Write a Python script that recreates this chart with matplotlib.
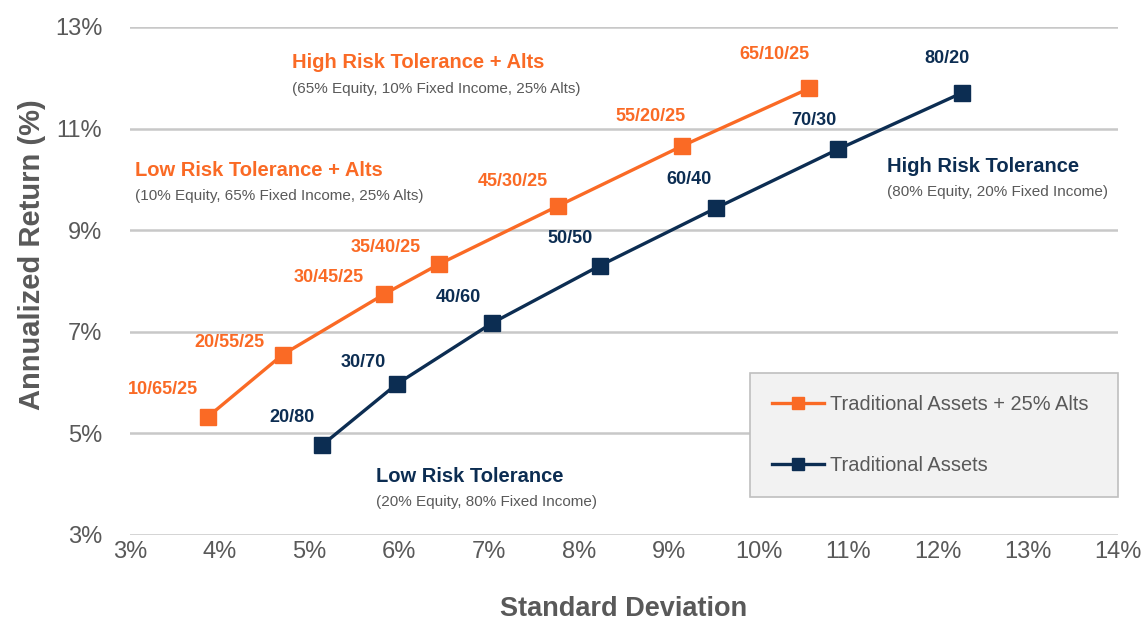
import matplotlib
matplotlib.use("Agg")
import matplotlib.pyplot as plt
from matplotlib.ticker import FuncFormatter

plt.rcParams["font.family"] = ["Liberation Sans", "DejaVu Sans"]

# data
alts_labels = ["10/65/25", "20/55/25", "30/45/25", "35/40/25", "45/30/25", "55/20/25", "65/10/25"]
alts_sd = [3.87, 4.70, 5.83, 6.44, 7.77, 9.15, 10.56]
alts_ret = [5.33, 6.55, 7.74, 8.33, 9.48, 10.66, 11.79]

trad_labels = ["20/80", "30/70", "40/60", "50/50", "60/40", "70/30", "80/20"]
trad_sd = [5.14, 5.97, 7.03, 8.23, 9.53, 10.88, 12.26]
trad_ret = [4.77, 5.97, 7.17, 8.30, 9.44, 10.59, 11.70]

xticks = list(range(3, 15))
yticks = list(range(3, 14, 2))

orange = "#FA6A25"
navy = "#0C2D52"
gray = "#595959"

# label offsets in pixels (dx, dy up)
alts_off = [(-45, 27), (-53, 12), (-55, 17), (-53, 17), (-46, 24), (-32, 29), (-35, 34)]
trad_off = [(-30, 28), (-33, 22), (-34, 26), (-30, 27), (-27, 28), (-24, 29), (-15, 35)]

fig = plt.figure(figsize=(11.47, 6.26), dpi=100)
ax = fig.add_axes([0.1133, 0.1454, 0.8614, 0.8115])

ax.plot(alts_sd, alts_ret, color=orange, lw=2.4, marker="s", ms=11,
        label="Traditional Assets + 25% Alts", zorder=3)
ax.plot(trad_sd, trad_ret, color=navy, lw=2.4, marker="s", ms=11,
        label="Traditional Assets", zorder=3)

px = 0.72  # points per pixel at dpi 100
for lab, x, y, (dx, dy) in zip(alts_labels, alts_sd, alts_ret, alts_off):
    ax.annotate(lab, (x, y), xytext=(dx * px, dy * px), textcoords="offset points",
                ha="center", va="center", color=orange, fontsize=13, fontweight="bold")
for lab, x, y, (dx, dy) in zip(trad_labels, trad_sd, trad_ret, trad_off):
    ax.annotate(lab, (x, y), xytext=(dx * px, dy * px), textcoords="offset points",
                ha="center", va="center", color=navy, fontsize=13, fontweight="bold")

# group notes
notes = [
    ("High Risk Tolerance + Alts", "(65% Equity, 10% Fixed Income, 25% Alts)", 292, 63, orange),
    ("Low Risk Tolerance + Alts", "(10% Equity, 65% Fixed Income, 25% Alts)", 135, 170, orange),
    ("High Risk Tolerance", "(80% Equity, 20% Fixed Income)", 887, 166, navy),
    ("Low Risk Tolerance", "(20% Equity, 80% Fixed Income)", 376, 476, navy),
]
for title, sub, x0, y0, c in notes:
    fig.text(x0 / 1147, 1 - y0 / 626, title, color=c, fontsize=14.5,
             fontweight="bold", ha="left", va="center")
    fig.text(x0 / 1147, 1 - (y0 + 26) / 626, sub, color=gray, fontsize=11,
             ha="left", va="center")

ax.set_xlim(3, 14)
ax.set_ylim(3, 13)
ax.set_xticks(xticks)
ax.set_yticks(yticks)
ax.xaxis.set_major_formatter(FuncFormatter(lambda v, p: f"{v:.0f}%"))
ax.yaxis.set_major_formatter(FuncFormatter(lambda v, p: f"{v:.0f}%"))
ax.tick_params(length=0, labelsize=17, labelcolor=gray)
ax.tick_params(axis="x", pad=4)
ax.tick_params(axis="y", pad=20)
ax.grid(axis="y", color="#C8C8C8", lw=1.8)
ax.set_axisbelow(True)
for sp in ax.spines.values():
    sp.set_visible(False)

ax.set_xlabel("Standard Deviation", fontsize=19.5, fontweight="bold", color=gray, labelpad=24)
ax.set_ylabel("Annualized Return (%)", fontsize=21, fontweight="bold", color=gray)
ax.yaxis.set_label_coords(-0.085, 0.551)

leg = ax.legend(loc="lower left", bbox_to_anchor=(0.6275, 0.0748, 0.3725, 0.246),
                mode="expand", fontsize=14.4, frameon=True, fancybox=False,
                facecolor="#F2F2F2", edgecolor="#BFBFBF", framealpha=1,
                labelspacing=2.1, borderpad=1.1, handlelength=2.6, handletextpad=0.3,
                borderaxespad=0)
for t in leg.get_texts():
    t.set_color(gray)
for h in leg.legend_handles:
    h.set_markersize(9)
leg.get_frame().set_linewidth(1.2)

fig.savefig("out.png", dpi=100)
